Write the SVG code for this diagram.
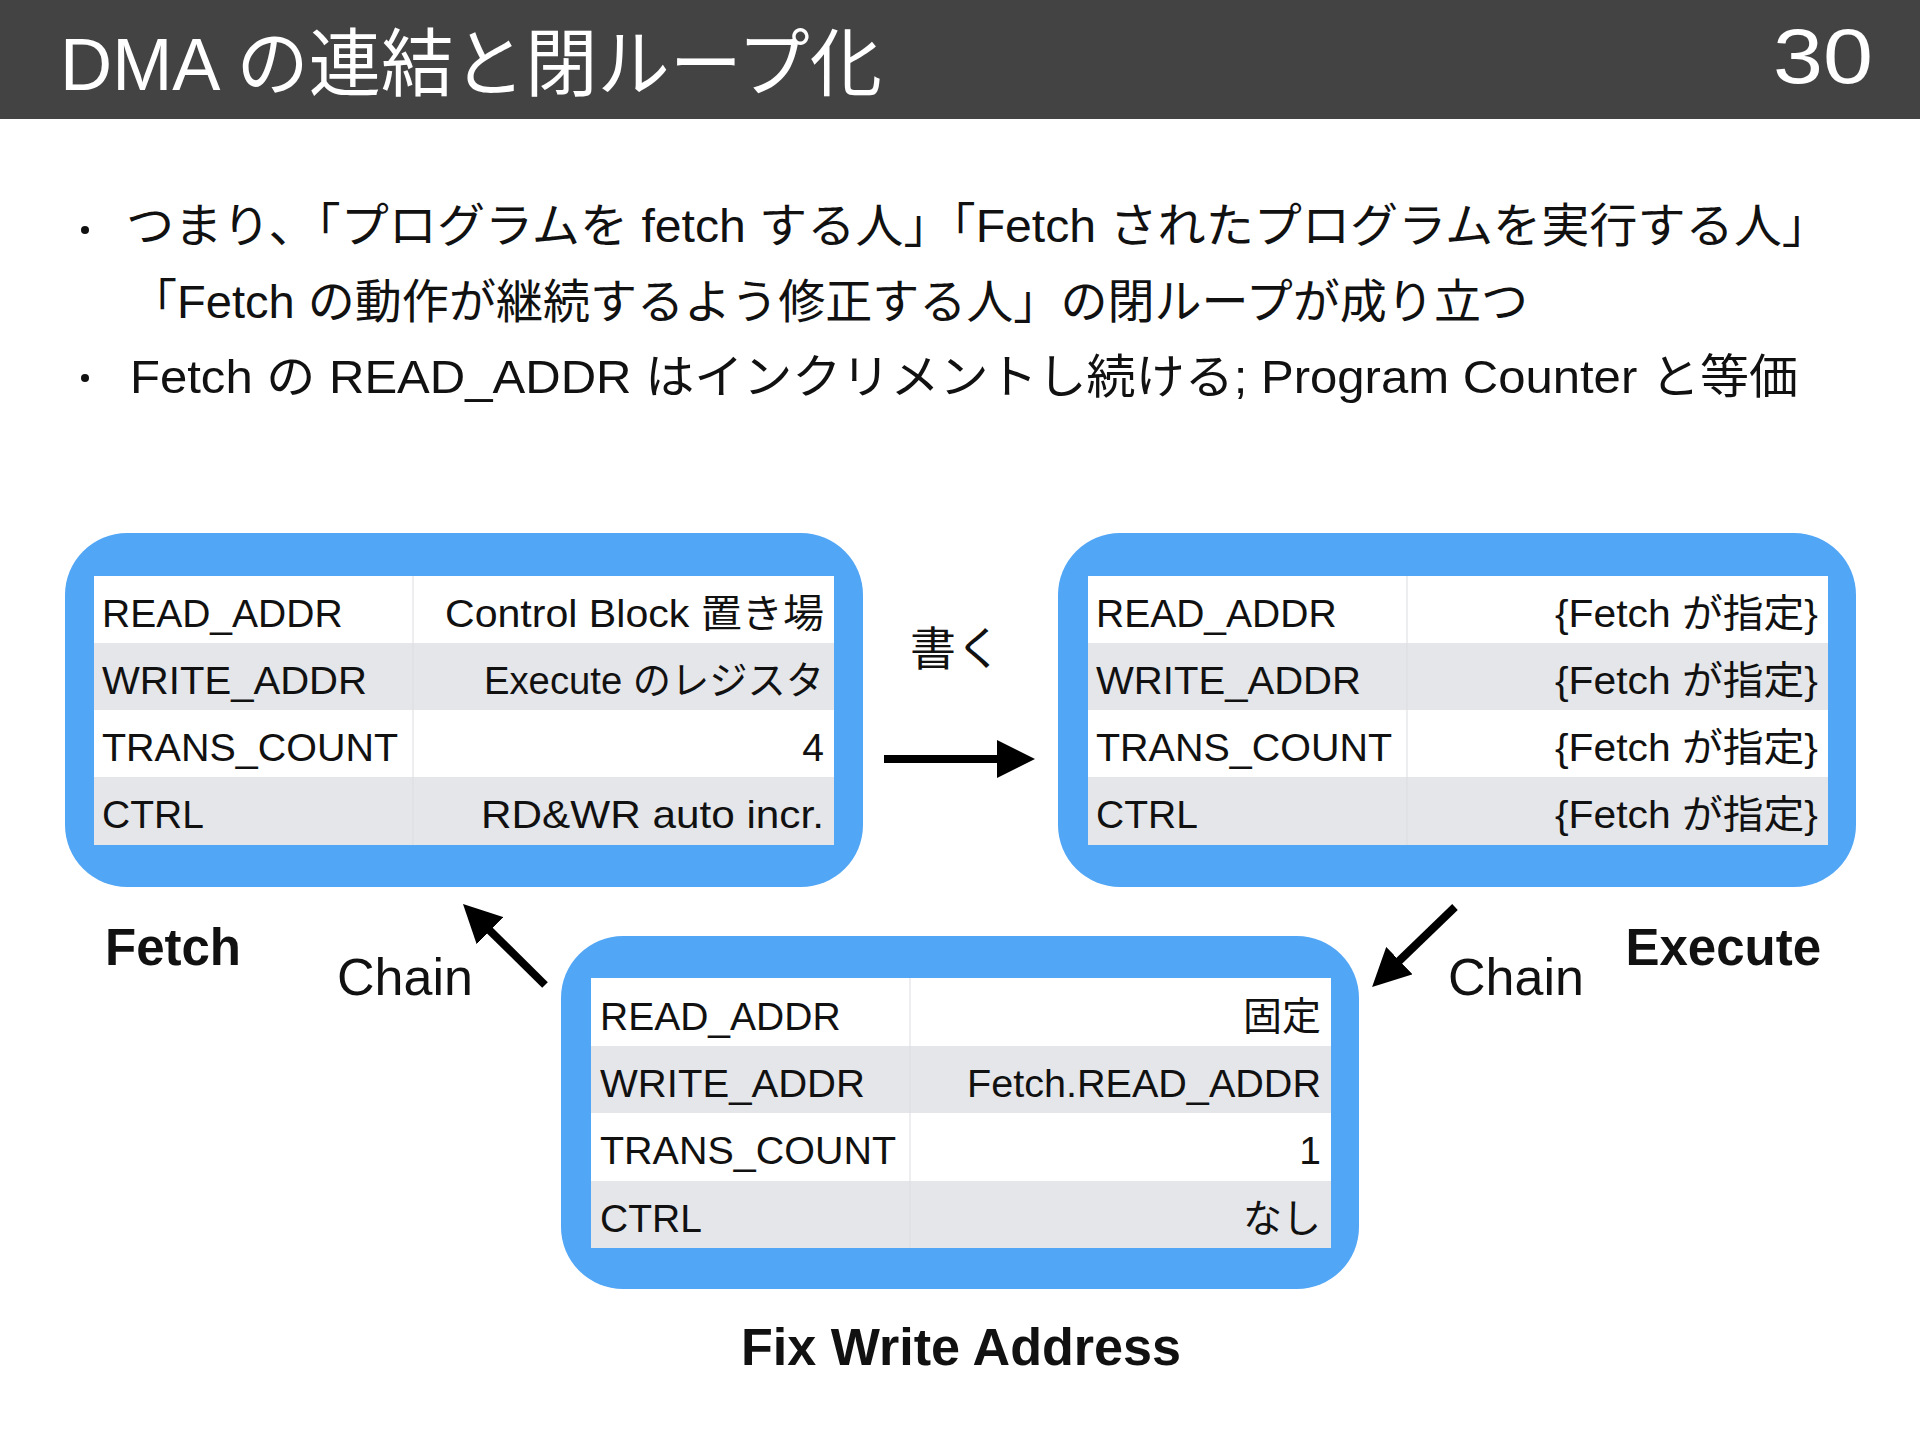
<svg xmlns="http://www.w3.org/2000/svg" width="1920" height="1440" viewBox="0 0 1920 1440">
<style>
  .t { font-family: "Liberation Sans", "Noto Sans CJK JP", sans-serif; fill: #111; }
  .cell { font-size: 39px; }
  .val { font-size: 39px; text-anchor: end; }
  .outer { fill: #52A6F6; }
  .white { fill: #FFFFFF; }
  .gray { fill: #E5E6EA; }
  .div { stroke: #DCDDE1; stroke-width: 1; }
  .bold { font-weight: bold; font-size: 51px; }
  .conn { stroke: #000; stroke-width: 8; fill: none; marker-end: url(#ah); }
</style>
<defs>
  <marker id="ah" viewBox="0 0 38 38" refX="2" refY="19" markerWidth="38" markerHeight="38" markerUnits="userSpaceOnUse" orient="auto">
    <path d="M0,0 L38,19 L0,38 z" fill="#000"/>
  </marker>
</defs>
<rect width="1920" height="1440" fill="#FFFFFF"/>
<g id="header">
  <rect x="0" y="0" width="1920" height="119" fill="#434343"/>
  <text class="t" x="60" y="90" font-size="74" style="fill:#FFFFFF" textLength="822" lengthAdjust="spacingAndGlyphs">DMA の連結と閉ループ化</text>
  <text class="t" x="1873" y="83" font-size="78" text-anchor="end" style="fill:#FFFFFF" textLength="100" lengthAdjust="spacingAndGlyphs">30</text>
</g>
<g id="bullets">
  <circle cx="85" cy="230" r="4" fill="#111"/>
  <text class="t" x="126" y="242" font-size="47" textLength="1704" lengthAdjust="spacingAndGlyphs">つまり、「プログラムを fetch する人」「Fetch されたプログラムを実行する人」</text>
  <text class="t" x="130" y="318" font-size="47" textLength="1398" lengthAdjust="spacingAndGlyphs">「Fetch の動作が継続するよう修正する人」の閉ループが成り立つ</text>
  <circle cx="85" cy="378" r="4" fill="#111"/>
  <text class="t" x="130" y="393" font-size="47" textLength="1668" lengthAdjust="spacingAndGlyphs">Fetch の READ_ADDR はインクリメントし続ける; Program Counter と等価</text>
</g>
<g id="fetch">
  <rect class="outer" x="65" y="533" width="798" height="354" rx="62"/>
  <rect class="white" x="94" y="576" width="740" height="67"/>
  <rect class="gray" x="94" y="643" width="740" height="67"/>
  <rect class="white" x="94" y="710" width="740" height="67"/>
  <rect class="gray" x="94" y="777" width="740" height="68"/>
  <line class="div" x1="413" y1="576" x2="413" y2="845"/>
  <text class="t cell" x="102" y="627">READ_ADDR</text>
  <text class="t cell" x="102" y="694" textLength="265" lengthAdjust="spacingAndGlyphs">WRITE_ADDR</text>
  <text class="t cell" x="102" y="761" textLength="296" lengthAdjust="spacingAndGlyphs">TRANS_COUNT</text>
  <text class="t cell" x="102" y="828">CTRL</text>
  <text class="t val" x="824" y="627" textLength="379" lengthAdjust="spacingAndGlyphs">Control Block 置き場</text>
  <text class="t val" x="824" y="694" textLength="340" lengthAdjust="spacingAndGlyphs">Execute のレジスタ</text>
  <text class="t val" x="824" y="761">4</text>
  <text class="t val" x="824" y="828" textLength="343" lengthAdjust="spacingAndGlyphs">RD&amp;WR auto incr.</text>
  <text class="t bold" x="105" y="965">Fetch</text>
</g>
<g id="execute">
  <rect class="outer" x="1058" y="533" width="798" height="354" rx="62"/>
  <rect class="white" x="1088" y="576" width="740" height="67"/>
  <rect class="gray" x="1088" y="643" width="740" height="67"/>
  <rect class="white" x="1088" y="710" width="740" height="67"/>
  <rect class="gray" x="1088" y="777" width="740" height="68"/>
  <line class="div" x1="1407" y1="576" x2="1407" y2="845"/>
  <text class="t cell" x="1096" y="627">READ_ADDR</text>
  <text class="t cell" x="1096" y="694" textLength="265" lengthAdjust="spacingAndGlyphs">WRITE_ADDR</text>
  <text class="t cell" x="1096" y="761" textLength="296" lengthAdjust="spacingAndGlyphs">TRANS_COUNT</text>
  <text class="t cell" x="1096" y="828">CTRL</text>
  <text class="t val" x="1818" y="627" textLength="263" lengthAdjust="spacingAndGlyphs">{Fetch が指定}</text>
  <text class="t val" x="1818" y="694" textLength="263" lengthAdjust="spacingAndGlyphs">{Fetch が指定}</text>
  <text class="t val" x="1818" y="761" textLength="263" lengthAdjust="spacingAndGlyphs">{Fetch が指定}</text>
  <text class="t val" x="1818" y="828" textLength="263" lengthAdjust="spacingAndGlyphs">{Fetch が指定}</text>
  <text class="t bold" x="1821" y="965" text-anchor="end">Execute</text>
</g>
<g id="fix">
  <rect class="outer" x="561" y="936" width="798" height="353" rx="62"/>
  <rect class="white" x="591" y="978" width="740" height="68"/>
  <rect class="gray" x="591" y="1046" width="740" height="67"/>
  <rect class="white" x="591" y="1113" width="740" height="68"/>
  <rect class="gray" x="591" y="1181" width="740" height="67"/>
  <line class="div" x1="910" y1="978" x2="910" y2="1248"/>
  <text class="t cell" x="600" y="1030">READ_ADDR</text>
  <text class="t cell" x="600" y="1097" textLength="265" lengthAdjust="spacingAndGlyphs">WRITE_ADDR</text>
  <text class="t cell" x="600" y="1164" textLength="296" lengthAdjust="spacingAndGlyphs">TRANS_COUNT</text>
  <text class="t cell" x="600" y="1232">CTRL</text>
  <text class="t val" x="1321" y="1030">固定</text>
  <text class="t val" x="1321" y="1097" textLength="354" lengthAdjust="spacingAndGlyphs">Fetch.READ_ADDR</text>
  <text class="t val" x="1321" y="1164">1</text>
  <text class="t val" x="1321" y="1232">なし</text>
  <text class="t bold" x="961" y="1365" text-anchor="middle" textLength="440" lengthAdjust="spacingAndGlyphs">Fix Write Address</text>
</g>
<g id="connectors">
  <line class="conn" x1="884" y1="759" x2="999" y2="759"/>
  <text class="t" x="956" y="665" font-size="46" text-anchor="middle">書く</text>
  <line class="conn" x1="545" y1="985" x2="488.6" y2="929.3"/>
  <text class="t" x="337" y="995" font-size="52">Chain</text>
  <line class="conn" x1="1455" y1="907" x2="1398" y2="962"/>
  <text class="t" x="1448" y="995" font-size="52">Chain</text>
</g>
</svg>
